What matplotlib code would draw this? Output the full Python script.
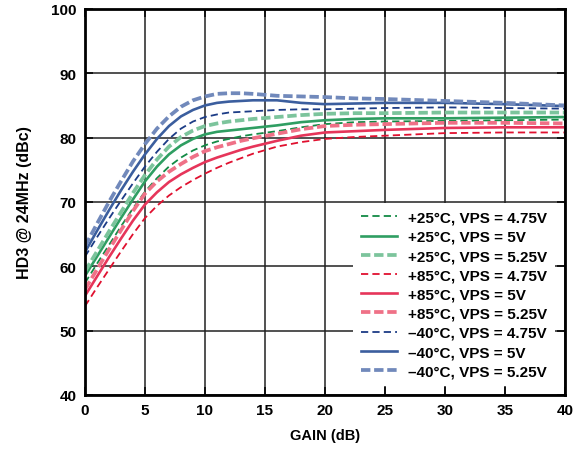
import numpy as np
from matplotlib import pyplot as plt

plt.rcParams['font.family'] = ['Liberation Sans', 'DejaVu Sans']
plt.rcParams['font.weight'] = 'bold'

gain = [0, 1, 2, 3, 4, 5, 6, 7, 8, 9, 10, 11, 12, 13, 14, 16, 18, 20, 22.5, 25, 30, 35, 40]

# +25C
t25_475 = [57.4, 60.4, 63.3, 66.2, 69.0, 71.6, 73.7, 75.5, 76.9, 78.0, 78.8, 79.4, 79.8, 80.2, 80.5,
           81.0, 81.6, 82.1, 82.4, 82.5, 82.6, 82.7, 82.8]
t25_500 = [58.5, 61.5, 64.5, 67.5, 70.4, 73.2, 75.5, 77.4, 78.8, 79.8, 80.5, 80.9, 81.1, 81.3, 81.5,
           81.9, 82.4, 82.7, 82.9, 83.0, 83.0, 83.1, 83.2]
t25_525 = [59.2, 62.3, 65.4, 68.4, 71.4, 74.2, 76.6, 78.6, 80.1, 81.1, 81.8, 82.2, 82.5, 82.7, 82.9,
           83.2, 83.5, 83.7, 83.8, 83.8, 83.9, 83.9, 83.9]
# +85C
t85_475 = [53.8, 56.7, 59.5, 62.3, 65.0, 67.5, 69.4, 71.0, 72.3, 73.4, 74.4, 75.3, 76.1, 76.8, 77.5,
           78.6, 79.3, 79.8, 80.1, 80.3, 80.7, 80.8, 80.8]
t85_500 = [55.4, 58.4, 61.4, 64.3, 67.1, 69.6, 71.5, 73.1, 74.3, 75.3, 76.2, 76.9, 77.5, 78.1, 78.6,
           79.5, 80.3, 80.8, 81.0, 81.2, 81.5, 81.6, 81.6]
t85_525 = [56.4, 59.5, 62.6, 65.6, 68.6, 71.3, 73.2, 74.7, 75.9, 77.0, 77.9, 78.5, 79.0, 79.5, 79.9,
           80.6, 81.3, 81.8, 82.0, 82.1, 82.3, 82.3, 82.2]
# -40C
tm40_475 = [61.5, 64.5, 67.4, 70.2, 72.9, 75.5, 77.8, 79.8, 81.4, 82.5, 83.2, 83.6, 83.9, 84.0, 84.1,
            84.3, 84.4, 84.4, 84.5, 84.6, 84.7, 84.6, 84.5]
tm40_500 = [62.2, 65.5, 68.7, 71.8, 74.7, 77.4, 79.8, 81.8, 83.3, 84.3, 85.0, 85.4, 85.6, 85.7, 85.8,
            85.8, 85.4, 85.2, 85.3, 85.4, 85.4, 85.2, 84.9]
tm40_525 = [63.1, 66.6, 70.0, 73.2, 76.3, 79.0, 81.4, 83.3, 84.8, 85.8, 86.4, 86.8, 86.9, 86.9, 86.8,
            86.5, 86.4, 86.3, 86.1, 86.0, 85.7, 85.4, 85.0]

labels = ['+25°C, VPS = 4.75V', '+25°C, VPS = 5V', '+25°C, VPS = 5.25V',
          '+85°C, VPS = 4.75V', '+85°C, VPS = 5V', '+85°C, VPS = 5.25V',
          '\u201340°C, VPS = 4.75V', '\u201340°C, VPS = 5V', '\u201340°C, VPS = 5.25V']
series = [t25_475, t25_500, t25_525, t85_475, t85_500, t85_525, tm40_475, tm40_500, tm40_525]
colors = ['#138a45', '#2f9e62', '#7cc49c',
          '#e0102f', '#e6355a', '#ef7187',
          '#1c3c86', '#3b5e9e', '#7189bb']

# thin dashed / solid / thick dashed for 4.75, 5, 5.25
styles = [dict(lw=1.3, ls=(0, (4, 2.3))), dict(lw=1.9, ls='-'), dict(lw=2.7, ls=(0, (2.5, 1.0)))]

fig = plt.figure(figsize=(5.78, 4.52), dpi=100)
ax = fig.add_axes([0.147, 0.124, 0.8305, 0.854])

for i, (y, lab, c) in enumerate(zip(series, labels, colors)):
    st = styles[i % 3]
    ax.plot(gain, y, color=c, lw=st['lw'], linestyle=st['ls'], label=lab)

ax.set_xlim(0, 40)
ax.set_ylim(40, 100)
ax.set_xticks(np.arange(0, 41, 5))
ax.set_yticks(np.arange(40, 101, 10))
ax.grid(True, color='#222222', lw=1.1)
ax.set_axisbelow(True)
for s in ax.spines.values():
    s.set_linewidth(2)
ax.tick_params(direction='in', length=6, width=1.1, top=True, right=True,
               labelsize=11, pad=6)
for t in ax.get_xticklabels() + ax.get_yticklabels():
    t.set_fontweight('bold')

ax.set_xlabel('GAIN (dB)', fontsize=10.5, fontweight='bold', labelpad=8)
ax.set_ylabel('HD3 @ 24MHz (dBc)', fontsize=11.5, fontweight='bold', labelpad=14)

leg = ax.legend(loc='lower right', bbox_to_anchor=(0.979, 0.0233), borderaxespad=0,
                fontsize=11, handlelength=2.4, labelspacing=0.34, borderpad=0.5,
                handletextpad=0.7, frameon=True, fancybox=False)
leg.get_frame().set_facecolor('white')
leg.get_frame().set_edgecolor('none')
leg.get_frame().set_alpha(1)
for t in leg.get_texts():
    t.set_fontweight('bold')

fig.savefig('out.png', dpi=100)
